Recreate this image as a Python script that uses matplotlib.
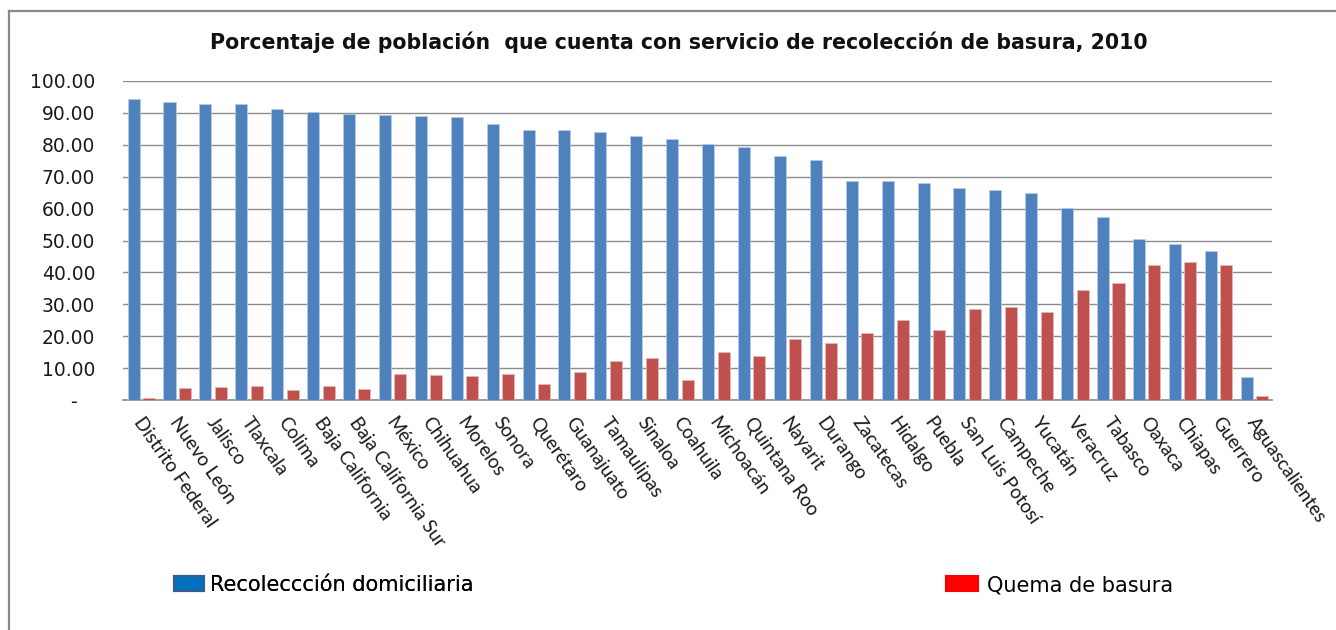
import matplotlib
matplotlib.use("Agg")
import matplotlib.pyplot as plt
from matplotlib.patches import Patch
from matplotlib.lines import Line2D
from matplotlib.transforms import ScaledTranslation
import numpy as np

states = ["Distrito Federal", "Nuevo León", "Jalisco", "Tlaxcala", "Colima",
          "Baja California", "Baja California Sur", "México", "Chihuahua", "Morelos",
          "Sonora", "Querétaro", "Guanajuato", "Tamaulipas", "Sinaloa", "Coahuila",
          "Michoacán", "Quintana Roo", "Nayarit", "Durango", "Zacatecas", "Hidalgo",
          "Puebla", "San Luis Potosí", "Campeche", "Yucatán", "Veracruz", "Tabasco",
          "Oaxaca", "Chiapas", "Guerrero", "Aguascalientes"]

recoleccion = [94.5, 93.3, 92.7, 92.7, 91.2, 90.2, 89.7, 89.4, 89.1, 88.8,
               86.4, 84.5, 84.5, 83.9, 82.9, 81.7, 80.1, 79.3, 76.5, 75.3,
               68.8, 68.5, 67.9, 66.4, 65.8, 64.8, 60.2, 57.5, 50.4, 48.9,
               46.7, 7.1]

quema = [0.5, 3.8, 4.1, 4.4, 3.1, 4.4, 3.5, 8.2, 7.9, 7.5,
         8.2, 5.0, 8.8, 12.1, 13.1, 6.3, 14.9, 13.9, 19.2, 17.9,
         20.9, 25.0, 21.9, 28.4, 29.0, 27.7, 34.5, 36.6, 42.4, 43.4,
         42.4, 1.3]

yticks = [0, 10, 20, 30, 40, 50, 60, 70, 80, 90, 100]
ytick_labels = ["-   ", "10.00", "20.00", "30.00", "40.00", "50.00",
                "60.00", "70.00", "80.00", "90.00", "100.00"]

title = "Porcentaje de población  que cuenta con servicio de recolección de basura, 2010"
legend_labels = ["Recoleccción domiciliaria", "Quema de basura"]

W, H = 1336, 630
fig = plt.figure(figsize=(W / 100, H / 100), dpi=100)
fig.patch.set_facecolor("white")

ax = fig.add_axes([123 / W, 1 - 400 / H, (1272 - 123) / W, (400 - 81) / H])

x = np.arange(len(states))
bw = 0.335
ax.bar(x - 0.205, recoleccion, width=bw, color="#4F81BD", edgecolor="#B9CDE5",
       linewidth=0.5, zorder=3)
ax.bar(x + 0.225, quema, width=bw, color="#C0504D", edgecolor="#E6B9B8",
       linewidth=0.5, zorder=3)

ax.set_xlim(-0.5, len(states) - 0.5)
ax.set_ylim(0, 100)
ax.set_yticks(yticks)
ax.set_yticklabels(ytick_labels, fontsize=13.5, family="DejaVu Sans", color="#1a1a1a")
ax.tick_params(axis="y", length=0, pad=20)
ax.grid(axis="y", color="#8C8C8C", linewidth=1.0, zorder=0)
ax.set_axisbelow(True)

ax.set_xticks(x)
ax.set_xticklabels(states, fontsize=13.7, family="Lato", color="#1a1a1a")
ax.tick_params(axis="x", length=0, pad=10)
shift = ScaledTranslation(4 / 100, 0, fig.dpi_scale_trans)
for lab in ax.get_xticklabels():
    lab.set_rotation(-55)
    lab.set_ha("left")
    lab.set_va("top")
    lab.set_rotation_mode("anchor")
    lab.set_transform(lab.get_transform() + shift)

for s in ["top", "right", "left"]:
    ax.spines[s].set_visible(False)
ax.spines["bottom"].set_color("#8C8C8C")
ax.spines["bottom"].set_linewidth(1.2)

fig.text(679 / W, 1 - 42 / H, title, ha="center", va="center",
         fontsize=14.8, fontweight="bold", family="DejaVu Sans", color="#111111")

# outer chart frame (left and top edges visible)
fig.add_artist(Line2D([9 / W, 9 / W], [0, 1 - 11 / H], transform=fig.transFigure,
                      color="#8A8A8A", linewidth=1.6))
fig.add_artist(Line2D([9 / W, 1], [1 - 11 / H, 1 - 11 / H], transform=fig.transFigure,
                      color="#8A8A8A", linewidth=1.6))

h1 = Patch(facecolor="#0070C0", edgecolor="#385D8A", linewidth=1.5)
h2 = Patch(facecolor="#FF0000", edgecolor="#FF0000", linewidth=1.5)
leg1 = fig.legend([h1], [legend_labels[0]], loc="center left",
                  bbox_to_anchor=(174 / W, 1 - 585 / H), frameon=False,
                  fontsize=15, handlelength=1.45, handleheight=0.7,
                  handletextpad=0.3, borderpad=0, borderaxespad=0)
leg2 = fig.legend([h2], [legend_labels[1]], loc="center left",
                  bbox_to_anchor=(946 / W, 1 - 585 / H), frameon=False,
                  fontsize=15, handlelength=1.55, handleheight=0.7,
                  handletextpad=0.4, borderpad=0, borderaxespad=0)
fig.add_artist(leg1)

fig.savefig("out.png", dpi=100, facecolor="white")
